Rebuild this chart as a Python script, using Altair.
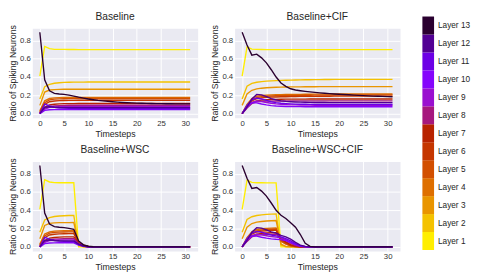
import altair as alt
import pandas as pd

timesteps = list(range(32))
layers = ["Layer 1", "Layer 2", "Layer 3", "Layer 4", "Layer 5", "Layer 6", "Layer 7",
          "Layer 8", "Layer 9", "Layer 10", "Layer 11", "Layer 12", "Layer 13"]
colors = ["#ffee00", "#f4c200", "#e99500", "#de6f00", "#d24f00", "#c53600", "#b82300",
          "#a6187e", "#9a10d0", "#8505fc", "#6c00e6", "#520094", "#2a0030"]
titles = ["Baseline", "Baseline+CIF", "Baseline+WSC", "Baseline+WSC+CIF"]

baseline = [
    [0.41, 0.735, 0.71, 0.703, 0.702, 0.702, 0.701, 0.701,
     0.70, 0.70, 0.70, 0.70, 0.70, 0.70, 0.70, 0.70,
     0.70, 0.70, 0.70, 0.70, 0.70, 0.70, 0.70, 0.70,
     0.70, 0.70, 0.70, 0.70, 0.70, 0.70, 0.70, 0.70],
    [0.16, 0.295, 0.32, 0.332, 0.338, 0.341, 0.343, 0.344,
     0.345, 0.345, 0.346, 0.346, 0.346, 0.346, 0.346, 0.346,
     0.346, 0.346, 0.346, 0.346, 0.346, 0.346, 0.346, 0.346,
     0.346, 0.346, 0.346, 0.346, 0.346, 0.346, 0.346, 0.346],
    [0.09, 0.235, 0.258, 0.263, 0.265, 0.266, 0.266, 0.267,
     0.267, 0.267, 0.267, 0.267, 0.267, 0.267, 0.267, 0.267,
     0.267, 0.267, 0.267, 0.267, 0.267, 0.267, 0.267, 0.267,
     0.267, 0.267, 0.267, 0.267, 0.267, 0.267, 0.267, 0.267],
    [0.03, 0.14, 0.165, 0.172, 0.175, 0.176, 0.177, 0.177,
     0.178, 0.178, 0.178, 0.178, 0.178, 0.178, 0.178, 0.178,
     0.178, 0.178, 0.178, 0.178, 0.178, 0.178, 0.178, 0.178,
     0.178, 0.178, 0.178, 0.178, 0.178, 0.178, 0.178, 0.178],
    [0.02, 0.12, 0.15, 0.158, 0.161, 0.163, 0.164, 0.164,
     0.165, 0.165, 0.165, 0.165, 0.165, 0.165, 0.165, 0.165,
     0.165, 0.165, 0.165, 0.165, 0.165, 0.165, 0.165, 0.165,
     0.165, 0.165, 0.165, 0.165, 0.165, 0.165, 0.165, 0.165],
    [0.01, 0.10, 0.13, 0.138, 0.142, 0.144, 0.145, 0.145,
     0.146, 0.146, 0.146, 0.146, 0.146, 0.146, 0.146, 0.146,
     0.146, 0.146, 0.146, 0.146, 0.146, 0.146, 0.146, 0.146,
     0.146, 0.146, 0.146, 0.146, 0.146, 0.146, 0.146, 0.146],
    [0.005, 0.07, 0.095, 0.103, 0.107, 0.109, 0.11, 0.11,
     0.111, 0.111, 0.111, 0.111, 0.111, 0.111, 0.111, 0.111,
     0.111, 0.111, 0.111, 0.111, 0.111, 0.111, 0.111, 0.111,
     0.111, 0.111, 0.111, 0.111, 0.111, 0.111, 0.111, 0.111],
    [0.0, 0.055, 0.078, 0.085, 0.088, 0.09, 0.091, 0.091,
     0.092, 0.092, 0.092, 0.092, 0.092, 0.092, 0.092, 0.092,
     0.092, 0.092, 0.092, 0.092, 0.092, 0.092, 0.092, 0.092,
     0.092, 0.092, 0.092, 0.092, 0.092, 0.092, 0.092, 0.092],
    [0.0, 0.05, 0.068, 0.073, 0.075, 0.076, 0.077, 0.077,
     0.078, 0.078, 0.078, 0.078, 0.078, 0.078, 0.078, 0.078,
     0.078, 0.078, 0.078, 0.078, 0.078, 0.078, 0.078, 0.078,
     0.078, 0.078, 0.078, 0.078, 0.078, 0.078, 0.078, 0.078],
    [0.0, 0.035, 0.042, 0.044, 0.045, 0.045, 0.045, 0.045,
     0.045, 0.045, 0.045, 0.045, 0.045, 0.045, 0.045, 0.045,
     0.045, 0.045, 0.045, 0.045, 0.045, 0.045, 0.045, 0.045,
     0.045, 0.045, 0.045, 0.045, 0.045, 0.045, 0.045, 0.045],
    [0.0, 0.105, 0.085, 0.07, 0.063, 0.06, 0.058, 0.057,
     0.056, 0.056, 0.056, 0.056, 0.056, 0.056, 0.056, 0.056,
     0.056, 0.056, 0.056, 0.056, 0.056, 0.056, 0.056, 0.056,
     0.056, 0.056, 0.056, 0.056, 0.056, 0.056, 0.056, 0.056],
    [0.0, 0.07, 0.075, 0.07, 0.067, 0.066, 0.065, 0.065,
     0.065, 0.065, 0.065, 0.065, 0.065, 0.065, 0.065, 0.065,
     0.065, 0.065, 0.065, 0.065, 0.065, 0.065, 0.065, 0.065,
     0.065, 0.065, 0.065, 0.065, 0.065, 0.065, 0.065, 0.065],
    [0.89, 0.37, 0.25, 0.222, 0.215, 0.21, 0.202, 0.192,
     0.18, 0.17, 0.16, 0.152, 0.145, 0.14, 0.135, 0.13,
     0.126, 0.122, 0.119, 0.117, 0.115, 0.113, 0.112, 0.111,
     0.11, 0.109, 0.108, 0.108, 0.107, 0.107, 0.106, 0.106],
]

baseline_cif = [
    [0.41, 0.73, 0.705, 0.702, 0.701, 0.70, 0.70, 0.70,
     0.70, 0.70, 0.70, 0.70, 0.70, 0.70, 0.70, 0.70,
     0.70, 0.70, 0.70, 0.70, 0.70, 0.70, 0.70, 0.70,
     0.70, 0.70, 0.70, 0.70, 0.70, 0.70, 0.70, 0.70],
    [0.16, 0.30, 0.33, 0.343, 0.35, 0.355, 0.358, 0.361,
     0.363, 0.365, 0.367, 0.368, 0.369, 0.37, 0.371, 0.372,
     0.372, 0.373, 0.373, 0.374, 0.374, 0.374, 0.375, 0.375,
     0.375, 0.375, 0.375, 0.375, 0.375, 0.375, 0.375, 0.375],
    [0.09, 0.215, 0.255, 0.27, 0.278, 0.283, 0.286, 0.288,
     0.29, 0.291, 0.292, 0.293, 0.293, 0.294, 0.294, 0.294,
     0.295, 0.295, 0.295, 0.295, 0.295, 0.295, 0.295, 0.295,
     0.295, 0.295, 0.295, 0.295, 0.295, 0.295, 0.295, 0.295],
    [0.0, 0.10, 0.165, 0.19, 0.198, 0.202, 0.205, 0.207,
     0.208, 0.209, 0.21, 0.211, 0.211, 0.212, 0.212, 0.213,
     0.213, 0.213, 0.214, 0.214, 0.214, 0.214, 0.215, 0.215,
     0.215, 0.215, 0.215, 0.215, 0.215, 0.215, 0.215, 0.215],
    [0.0, 0.09, 0.15, 0.175, 0.185, 0.19, 0.193, 0.195,
     0.197, 0.198, 0.199, 0.20, 0.20, 0.201, 0.201, 0.202,
     0.202, 0.202, 0.203, 0.203, 0.203, 0.204, 0.204, 0.204,
     0.205, 0.205, 0.205, 0.205, 0.205, 0.205, 0.205, 0.205],
    [0.0, 0.08, 0.14, 0.163, 0.172, 0.177, 0.18, 0.182,
     0.184, 0.185, 0.186, 0.187, 0.188, 0.188, 0.189, 0.189,
     0.19, 0.19, 0.19, 0.191, 0.191, 0.191, 0.192, 0.192,
     0.192, 0.192, 0.192, 0.192, 0.192, 0.192, 0.192, 0.192],
    [0.0, 0.07, 0.12, 0.14, 0.148, 0.152, 0.155, 0.156,
     0.157, 0.158, 0.158, 0.159, 0.159, 0.159, 0.16, 0.16,
     0.16, 0.16, 0.16, 0.16, 0.16, 0.16, 0.16, 0.16,
     0.16, 0.16, 0.16, 0.16, 0.16, 0.16, 0.16, 0.16],
    [0.0, 0.06, 0.11, 0.13, 0.134, 0.136, 0.137, 0.138,
     0.138, 0.138, 0.139, 0.139, 0.139, 0.139, 0.14, 0.14,
     0.14, 0.14, 0.14, 0.14, 0.14, 0.14, 0.14, 0.14,
     0.14, 0.14, 0.14, 0.14, 0.14, 0.14, 0.14, 0.14],
    [0.0, 0.07, 0.12, 0.138, 0.132, 0.122, 0.113, 0.106,
     0.101, 0.098, 0.096, 0.095, 0.094, 0.093, 0.093, 0.092,
     0.092, 0.092, 0.092, 0.092, 0.092, 0.092, 0.092, 0.092,
     0.092, 0.092, 0.092, 0.092, 0.092, 0.092, 0.092, 0.092],
    [0.0, 0.08, 0.12, 0.118, 0.105, 0.095, 0.088, 0.083,
     0.08, 0.078, 0.077, 0.076, 0.076, 0.075, 0.075, 0.075,
     0.075, 0.075, 0.075, 0.075, 0.075, 0.075, 0.075, 0.075,
     0.075, 0.075, 0.075, 0.075, 0.075, 0.075, 0.075, 0.075],
    [0.0, 0.09, 0.15, 0.17, 0.16, 0.145, 0.13, 0.12,
     0.113, 0.109, 0.106, 0.104, 0.103, 0.102, 0.101, 0.101,
     0.10, 0.10, 0.10, 0.10, 0.10, 0.10, 0.10, 0.10,
     0.10, 0.10, 0.10, 0.10, 0.10, 0.10, 0.10, 0.10],
    [0.0, 0.07, 0.16, 0.21, 0.205, 0.185, 0.165, 0.15,
     0.14, 0.134, 0.13, 0.127, 0.125, 0.124, 0.123, 0.122,
     0.121, 0.121, 0.12, 0.12, 0.12, 0.12, 0.12, 0.12,
     0.12, 0.12, 0.12, 0.12, 0.12, 0.12, 0.12, 0.12],
    [0.89, 0.75, 0.64, 0.65, 0.61, 0.555, 0.48, 0.40,
     0.335, 0.298, 0.272, 0.258, 0.25, 0.243, 0.237, 0.232,
     0.227, 0.223, 0.219, 0.215, 0.212, 0.209, 0.206, 0.203,
     0.20, 0.197, 0.194, 0.192, 0.19, 0.188, 0.186, 0.185],
]

baseline_wsc = [
    [0.41, 0.735, 0.71, 0.703, 0.702, 0.702, 0.701, 0.701,
     0.0, 0.0, 0.0, 0.0, 0.0, 0.0, 0.0, 0.0,
     0.0, 0.0, 0.0, 0.0, 0.0, 0.0, 0.0, 0.0,
     0.0, 0.0, 0.0, 0.0, 0.0, 0.0, 0.0, 0.0],
    [0.16, 0.295, 0.32, 0.332, 0.338, 0.341, 0.343, 0.344,
     0.015, 0.0, 0.0, 0.0, 0.0, 0.0, 0.0, 0.0,
     0.0, 0.0, 0.0, 0.0, 0.0, 0.0, 0.0, 0.0,
     0.0, 0.0, 0.0, 0.0, 0.0, 0.0, 0.0, 0.0],
    [0.09, 0.235, 0.258, 0.263, 0.265, 0.266, 0.266, 0.267,
     0.025, 0.004, 0.0, 0.0, 0.0, 0.0, 0.0, 0.0,
     0.0, 0.0, 0.0, 0.0, 0.0, 0.0, 0.0, 0.0,
     0.0, 0.0, 0.0, 0.0, 0.0, 0.0, 0.0, 0.0],
    [0.03, 0.14, 0.165, 0.172, 0.175, 0.176, 0.177, 0.177,
     0.05, 0.02, 0.005, 0.0, 0.0, 0.0, 0.0, 0.0,
     0.0, 0.0, 0.0, 0.0, 0.0, 0.0, 0.0, 0.0,
     0.0, 0.0, 0.0, 0.0, 0.0, 0.0, 0.0, 0.0],
    [0.02, 0.12, 0.15, 0.158, 0.161, 0.163, 0.164, 0.164,
     0.045, 0.018, 0.004, 0.0, 0.0, 0.0, 0.0, 0.0,
     0.0, 0.0, 0.0, 0.0, 0.0, 0.0, 0.0, 0.0,
     0.0, 0.0, 0.0, 0.0, 0.0, 0.0, 0.0, 0.0],
    [0.01, 0.10, 0.13, 0.138, 0.142, 0.144, 0.145, 0.145,
     0.045, 0.016, 0.004, 0.0, 0.0, 0.0, 0.0, 0.0,
     0.0, 0.0, 0.0, 0.0, 0.0, 0.0, 0.0, 0.0,
     0.0, 0.0, 0.0, 0.0, 0.0, 0.0, 0.0, 0.0],
    [0.005, 0.07, 0.095, 0.103, 0.107, 0.109, 0.11, 0.11,
     0.04, 0.014, 0.003, 0.0, 0.0, 0.0, 0.0, 0.0,
     0.0, 0.0, 0.0, 0.0, 0.0, 0.0, 0.0, 0.0,
     0.0, 0.0, 0.0, 0.0, 0.0, 0.0, 0.0, 0.0],
    [0.0, 0.055, 0.078, 0.085, 0.088, 0.09, 0.091, 0.091,
     0.035, 0.012, 0.003, 0.0, 0.0, 0.0, 0.0, 0.0,
     0.0, 0.0, 0.0, 0.0, 0.0, 0.0, 0.0, 0.0,
     0.0, 0.0, 0.0, 0.0, 0.0, 0.0, 0.0, 0.0],
    [0.0, 0.05, 0.068, 0.073, 0.075, 0.076, 0.077, 0.077,
     0.03, 0.01, 0.002, 0.0, 0.0, 0.0, 0.0, 0.0,
     0.0, 0.0, 0.0, 0.0, 0.0, 0.0, 0.0, 0.0,
     0.0, 0.0, 0.0, 0.0, 0.0, 0.0, 0.0, 0.0],
    [0.0, 0.035, 0.042, 0.044, 0.045, 0.045, 0.045, 0.045,
     0.02, 0.006, 0.001, 0.0, 0.0, 0.0, 0.0, 0.0,
     0.0, 0.0, 0.0, 0.0, 0.0, 0.0, 0.0, 0.0,
     0.0, 0.0, 0.0, 0.0, 0.0, 0.0, 0.0, 0.0],
    [0.0, 0.105, 0.085, 0.07, 0.063, 0.06, 0.058, 0.057,
     0.025, 0.008, 0.002, 0.0, 0.0, 0.0, 0.0, 0.0,
     0.0, 0.0, 0.0, 0.0, 0.0, 0.0, 0.0, 0.0,
     0.0, 0.0, 0.0, 0.0, 0.0, 0.0, 0.0, 0.0],
    [0.0, 0.07, 0.075, 0.07, 0.067, 0.066, 0.065, 0.065,
     0.03, 0.01, 0.002, 0.0, 0.0, 0.0, 0.0, 0.0,
     0.0, 0.0, 0.0, 0.0, 0.0, 0.0, 0.0, 0.0,
     0.0, 0.0, 0.0, 0.0, 0.0, 0.0, 0.0, 0.0],
    [0.89, 0.37, 0.25, 0.222, 0.215, 0.21, 0.202, 0.192,
     0.065, 0.022, 0.007, 0.002, 0.0, 0.0, 0.0, 0.0,
     0.0, 0.0, 0.0, 0.0, 0.0, 0.0, 0.0, 0.0,
     0.0, 0.0, 0.0, 0.0, 0.0, 0.0, 0.0, 0.0],
]

baseline_wsc_cif = [
    [0.41, 0.73, 0.705, 0.702, 0.701, 0.70, 0.70, 0.70,
     0.0, 0.0, 0.0, 0.0, 0.0, 0.0, 0.0, 0.0,
     0.0, 0.0, 0.0, 0.0, 0.0, 0.0, 0.0, 0.0,
     0.0, 0.0, 0.0, 0.0, 0.0, 0.0, 0.0, 0.0],
    [0.16, 0.30, 0.33, 0.343, 0.35, 0.355, 0.358, 0.361,
     0.02, 0.0, 0.0, 0.0, 0.0, 0.0, 0.0, 0.0,
     0.0, 0.0, 0.0, 0.0, 0.0, 0.0, 0.0, 0.0,
     0.0, 0.0, 0.0, 0.0, 0.0, 0.0, 0.0, 0.0],
    [0.09, 0.215, 0.255, 0.27, 0.278, 0.283, 0.286, 0.288,
     0.03, 0.005, 0.0, 0.0, 0.0, 0.0, 0.0, 0.0,
     0.0, 0.0, 0.0, 0.0, 0.0, 0.0, 0.0, 0.0,
     0.0, 0.0, 0.0, 0.0, 0.0, 0.0, 0.0, 0.0],
    [0.0, 0.10, 0.165, 0.19, 0.198, 0.202, 0.205, 0.207,
     0.06, 0.03, 0.01, 0.0, 0.0, 0.0, 0.0, 0.0,
     0.0, 0.0, 0.0, 0.0, 0.0, 0.0, 0.0, 0.0,
     0.0, 0.0, 0.0, 0.0, 0.0, 0.0, 0.0, 0.0],
    [0.0, 0.09, 0.15, 0.175, 0.185, 0.19, 0.193, 0.195,
     0.07, 0.035, 0.012, 0.003, 0.0, 0.0, 0.0, 0.0,
     0.0, 0.0, 0.0, 0.0, 0.0, 0.0, 0.0, 0.0,
     0.0, 0.0, 0.0, 0.0, 0.0, 0.0, 0.0, 0.0],
    [0.0, 0.08, 0.14, 0.163, 0.172, 0.177, 0.18, 0.182,
     0.08, 0.045, 0.018, 0.005, 0.0, 0.0, 0.0, 0.0,
     0.0, 0.0, 0.0, 0.0, 0.0, 0.0, 0.0, 0.0,
     0.0, 0.0, 0.0, 0.0, 0.0, 0.0, 0.0, 0.0],
    [0.0, 0.07, 0.12, 0.14, 0.148, 0.152, 0.155, 0.156,
     0.09, 0.055, 0.025, 0.008, 0.0, 0.0, 0.0, 0.0,
     0.0, 0.0, 0.0, 0.0, 0.0, 0.0, 0.0, 0.0,
     0.0, 0.0, 0.0, 0.0, 0.0, 0.0, 0.0, 0.0],
    [0.0, 0.06, 0.11, 0.13, 0.134, 0.136, 0.137, 0.138,
     0.10, 0.07, 0.04, 0.015, 0.004, 0.0, 0.0, 0.0,
     0.0, 0.0, 0.0, 0.0, 0.0, 0.0, 0.0, 0.0,
     0.0, 0.0, 0.0, 0.0, 0.0, 0.0, 0.0, 0.0],
    [0.0, 0.07, 0.12, 0.138, 0.132, 0.122, 0.113, 0.106,
     0.10, 0.08, 0.05, 0.025, 0.008, 0.0, 0.0, 0.0,
     0.0, 0.0, 0.0, 0.0, 0.0, 0.0, 0.0, 0.0,
     0.0, 0.0, 0.0, 0.0, 0.0, 0.0, 0.0, 0.0],
    [0.0, 0.08, 0.12, 0.118, 0.105, 0.095, 0.088, 0.083,
     0.08, 0.068, 0.048, 0.028, 0.01, 0.002, 0.0, 0.0,
     0.0, 0.0, 0.0, 0.0, 0.0, 0.0, 0.0, 0.0,
     0.0, 0.0, 0.0, 0.0, 0.0, 0.0, 0.0, 0.0],
    [0.0, 0.09, 0.15, 0.17, 0.16, 0.145, 0.13, 0.12,
     0.11, 0.09, 0.065, 0.035, 0.012, 0.003, 0.0, 0.0,
     0.0, 0.0, 0.0, 0.0, 0.0, 0.0, 0.0, 0.0,
     0.0, 0.0, 0.0, 0.0, 0.0, 0.0, 0.0, 0.0],
    [0.0, 0.07, 0.16, 0.21, 0.205, 0.185, 0.165, 0.15,
     0.125, 0.11, 0.085, 0.05, 0.02, 0.005, 0.0, 0.0,
     0.0, 0.0, 0.0, 0.0, 0.0, 0.0, 0.0, 0.0,
     0.0, 0.0, 0.0, 0.0, 0.0, 0.0, 0.0, 0.0],
    [0.89, 0.75, 0.64, 0.65, 0.61, 0.555, 0.48, 0.40,
     0.345, 0.31, 0.265, 0.215, 0.135, 0.04, 0.005, 0.0,
     0.0, 0.0, 0.0, 0.0, 0.0, 0.0, 0.0, 0.0,
     0.0, 0.0, 0.0, 0.0, 0.0, 0.0, 0.0, 0.0],
]

panels_data = [baseline, baseline_cif, baseline_wsc, baseline_wsc_cif]
for p in panels_data:
    assert len(p) == 13
    for s in p:
        assert len(s) == 32, len(s)

FONT = "Liberation Sans"
color_scale = alt.Scale(domain=layers, range=colors)


def panel(vals, title):
    rows = []
    for name, series in zip(layers, vals):
        for t, v in zip(timesteps, series):
            rows.append({"t": t, "v": v, "layer": name})
    df = pd.DataFrame(rows)
    return alt.Chart(
        df,
        title=alt.TitleParams(title, fontSize=10.5, offset=2, fontWeight="normal",
                              color="#262626", font=FONT),
    ).mark_line(strokeWidth=1.4).encode(
        x=alt.X("t:Q", scale=alt.Scale(domain=[-1.55, 32.55], nice=False, zero=False),
                axis=alt.Axis(values=[0, 5, 10, 15, 20, 25, 30], title="Timesteps")),
        y=alt.Y("v:Q", scale=alt.Scale(domain=[-0.0445, 0.9345], nice=False, zero=False),
                axis=alt.Axis(values=[0, 0.2, 0.4, 0.6, 0.8], format=".1f",
                              title="Ratio of Spiking Neurons")),
        color=alt.Color("layer:N", scale=color_scale, legend=None),
    ).properties(width=170, height=92,
                 view=alt.ViewBackground(fill="#eaeaf2", stroke="transparent"))


p1, p2, p3, p4 = [panel(v, t) for v, t in zip(panels_data, titles)]

# colour-bar style legend; its view origin lines up with the top panel's plot area
leg_df = pd.DataFrame({"layer": layers})
leg_base = alt.Chart(leg_df).encode(
    y=alt.Y("layer:N", sort=layers[::-1], axis=None,
            scale=alt.Scale(range=[-12, 228], paddingInner=0, paddingOuter=0)),
)
leg_rect = leg_base.mark_rect().encode(
    x=alt.value(0), x2=alt.value(12),
    color=alt.Color("layer:N", scale=color_scale, legend=None),
)
leg_text = leg_base.mark_text(align="left", baseline="middle", fontSize=8.5,
                              color="#262626", font=FONT).encode(
    x=alt.value(16), text="layer:N")
legend = alt.layer(leg_rect, leg_text).properties(
    width=50, height=228, view=alt.ViewBackground(stroke="transparent"))

grid = alt.vconcat(
    alt.hconcat(p1, p2, spacing=12),
    alt.hconcat(p3, p4, spacing=12),
    spacing=6,
)

chart = alt.hconcat(grid, legend, spacing=21).properties(
    padding=0, background="white"
).configure_view(
    stroke="transparent"
).configure_axis(
    domain=False, ticks=False, grid=True, gridColor="white", gridWidth=1,
    labelFont=FONT, titleFont=FONT, labelFontSize=8, titleFontSize=9,
    labelColor="#333333", titleColor="#262626", titleFontWeight="normal",
    labelPadding=2, titlePadding=2, labelFlush=False, labelOverlap=False,
)

chart.save("out.html", embed_options={"renderer": "svg", "actions": False})
